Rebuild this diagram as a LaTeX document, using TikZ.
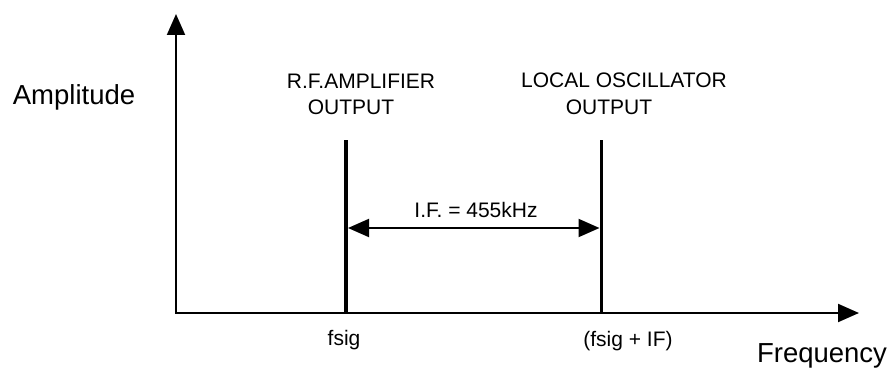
\documentclass[tikz,border=0pt]{standalone}
\usepackage{fontspec}
\setmainfont{Liberation Sans}
\usetikzlibrary{arrows.meta}

\begin{document}
\begin{tikzpicture}[x=1pt, y=-1pt,
    every node/.style={inner sep=0pt},
    axis/.style={line width=2pt, -{Triangle[length=21pt, width=18pt]}},
    spike/.style={line width=3.6pt},
    ifarrow/.style={line width=2pt, {Triangle[length=21pt, width=18pt]}-{Triangle[length=21pt, width=18pt]}},
    lbl/.style={font=\fontsize{21}{25}\selectfont},
    axlbl/.style={font=\fontsize{27.5}{32}\selectfont}]
    \useasboundingbox (0,0) rectangle (891,371);

    % Axes
    \coordinate (origin) at (176,313);
    \coordinate (ytip) at (176,14);
    \coordinate (xtip) at (859,313);
    \draw[axis] (origin) -- (ytip);
    \draw[axis] ([xshift=-1pt]origin) -- (xtip);
    \node[axlbl] (amp) at (74,97) {Amplitude};
    \node[axlbl] (freq) at (822,356) {Frequency};

    % Spikes
    \coordinate (rftop) at (346,140);
    \coordinate (rfbase) at (346,313);
    \coordinate (lotop) at (601.5,140);
    \coordinate (lobase) at (601.5,313);
    \draw[spike] (rfbase) -- (rftop);
    \draw[spike] (lobase) -- (lotop);
    \node[lbl] (rf1) at (361,81) {R.F.AMPLIFIER};
    \node[lbl] (rf2) at (351,107.5) {OUTPUT};
    \node[lbl] (lo1) at (624,80.5) {LOCAL OSCILLATOR};
    \node[lbl] (lo2) at (609,107.5) {OUTPUT};
    \node[lbl] (fsig) at (344,340) {fsig};
    \node[lbl] (fsigif) at (628,341) {(fsig + IF)};

    % I.F. span
    \coordinate (ifl) at (348,228);
    \coordinate (ifr) at (599.5,228);
    \draw[ifarrow] (ifl) -- (ifr);
    \node[lbl] (ifval) at (476,210) {I.F. = 455kHz};
\end{tikzpicture}
\end{document}
